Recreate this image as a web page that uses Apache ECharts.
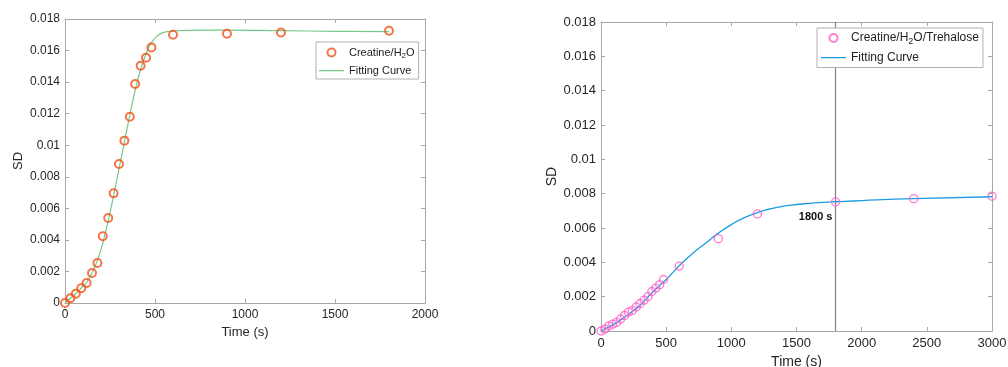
<!DOCTYPE html>
<html>
<head>
<meta charset="utf-8">
<script src="https://cdn.jsdelivr.net/npm/echarts@6/dist/echarts.min.js"></script>
<style>
html,body{margin:0;padding:0;background:#fff;}
#c{width:1008px;height:367px;}
</style>
</head>
<body>
<div id="c"></div>
<script>
// ---- Left panel: Creatine/H2O ----
const leftTime = [0,30,60,90,120,150,180,210,240,270,300,330,360,390,420,450,480,600,900,1200,1800];
const leftSD = [0,0.0003,0.00059,0.00093,0.00127,0.0019,0.00254,0.00423,0.00539,0.00695,0.00881,0.01029,0.01181,0.01388,0.01504,0.01555,0.0162,0.0170,0.01707,0.01715,0.01726];
const leftFitTime = [0,30,60,90,120,150,180,210,240,270,300,330,360,390,420,450,480,510,540,570,600,700,800,900,1200,1500,1800];
const leftFitSD = [0,0.0003,0.0006,0.00095,0.0013,0.0019,0.0027,0.0038,0.0052,0.0068,0.0085,0.0102,0.0119,0.0135,0.0148,0.0158,0.0165,0.0169,0.01712,0.0172,0.01724,0.01728,0.0173,0.0173,0.01726,0.01722,0.0172];

// ---- Right panel: Creatine/H2O/Trehalose ----
const rightTime = [0,30,60,90,120,150,180,210,240,270,300,330,360,390,420,450,480,600,900,1200,1800,2400,3000];
const rightSD = [0,0.0001,0.0003,0.0004,0.0005,0.0007,0.0009,0.0011,0.0012,0.0014,0.0016,0.0018,0.0020,0.0023,0.0025,0.0027,0.0030,0.00378,0.00538,0.00682,0.00752,0.00771,0.00785];
const rightFitTime = [0,50,100,150,200,250,300,350,400,500,600,700,800,900,1000,1100,1200,1300,1400,1500,1600,1700,1800,2000,2400,3000];
const rightFitSD = [0,0.0002,0.0004,0.00065,0.0009,0.0012,0.0015,0.0019,0.0023,0.0030,0.0038,0.0045,0.0051,0.0057,0.0062,0.0066,0.0069,0.00712,0.00727,0.00737,0.00744,0.00749,0.00753,0.0076,0.00771,0.00782];

const markTime = 1800;
const markSD = 0.0075;
const markText = '1800 s';

const yTicks = {min:0, max:0.018, interval:0.002};
const leftX = {min:0, max:2000, interval:500};
const rightX = {min:0, max:3000, interval:500};

const nameL = 'Creatine/H2O';
const nameLFit = 'Fitting Curve#L';
const nameR = 'Creatine/H2O/Trehalose';
const nameRFit = 'Fitting Curve#R';

const FONT = 'Liberation Sans, Arial, Helvetica, sans-serif';
const axisCol = '#a8a8a8';
const txtCol = '#262626';
const greenCol = '#77c98a';
const blueCol = '#1c9be2';
const LINE_ICON = 'path://M0,0L0.01,0L0.01,0.01Z M0,3.4L25,3.4L25,4.7L0,4.7Z M0,7.99L0.01,7.99L0.01,8Z';

function pair(xs, ys){ return xs.map((x,i)=>[x, ys[i]]); }
function fmtNum(v){ return String(+(+v).toFixed(4)); }

function xAx(grid, r, pos, show, fs, gap, margin){
  return {
    type:'value', gridIndex:grid, position:pos, min:r.min, max:r.max, interval:r.interval,
    name: show ? 'Time (s)' : '', nameLocation:'middle', nameGap:gap,
    nameTextStyle:{color:txtCol, fontSize:fs+1, fontFamily:FONT},
    axisLine:{show:true, onZero:false, lineStyle:{color:axisCol, width:1}},
    axisTick:{show:true, inside:true, length:4, lineStyle:{color:axisCol}},
    axisLabel:{show:show, color:txtCol, fontSize:fs, fontFamily:FONT, margin:margin, formatter:fmtNum},
    splitLine:{show:false}
  };
}
function yAx(grid, pos, show, fs, gap){
  return {
    type:'value', gridIndex:grid, position:pos, min:yTicks.min, max:yTicks.max, interval:yTicks.interval,
    name: show ? 'SD' : '', nameLocation:'middle', nameGap:gap,
    nameTextStyle:{color:txtCol, fontSize:fs+1, fontFamily:FONT},
    axisLine:{show:true, onZero:false, lineStyle:{color:axisCol, width:1}},
    axisTick:{show:true, inside:true, length:4, lineStyle:{color:axisCol}},
    axisLabel:{show:show, color:txtCol, fontSize:fs, fontFamily:FONT, margin:5, formatter:fmtNum},
    splitLine:{show:false}
  };
}

function richTxt(fs){
  return {
    a:{fontSize:fs, fontFamily:FONT, color:'#222'},
    s:{fontSize:fs-3, fontFamily:FONT, color:'#222', padding:[fs-4,0,0,0]}
  };
}
function legendFmt(name){
  name = name.split('#')[0];
  if(name.indexOf('H2O')>=0){
    const parts = name.split('H2O');
    return '{a|'+parts[0]+'H}{s|2}{a|O'+parts[1]+'}';
  }
  return '{a|'+name+'}';
}

const chart = echarts.init(document.getElementById('c'), null, {renderer:'canvas'});
chart.setOption({
  backgroundColor:'#fff',
  animation:false,
  grid:[
    {left:65, top:19, width:360, height:284, containLabel:false, outerBoundsMode:'none'},
    {left:601, top:22, width:391, height:309, containLabel:false, outerBoundsMode:'none'}
  ],
  xAxis:[ xAx(0,leftX,'bottom',true,12,20,6), xAx(0,leftX,'top',false,12,20,6),
          xAx(1,rightX,'bottom',true,13,21,6), xAx(1,rightX,'top',false,13,21,6) ],
  yAxis:[ yAx(0,'left',true,12,40), yAx(0,'right',false,12,40),
          yAx(1,'left',true,13,42), yAx(1,'right',false,13,42) ],
  legend:[
    {
      z:20,
      data:[{name:nameL}, {name:nameLFit, icon:LINE_ICON, itemStyle:{color:greenCol, borderWidth:0}, lineStyle:{color:greenCol}}],
      orient:'vertical', left:316, top:42,
      itemWidth:25, itemHeight:8, itemGap:5, padding:[5,4,3,3],
      backgroundColor:'#fff', borderColor:'#b0b0b0', borderWidth:1, borderRadius:0,
      formatter:legendFmt, textStyle:{rich:richTxt(11)}
    },
    {
      z:20,
      data:[{name:nameR}, {name:nameRFit, icon:LINE_ICON, itemStyle:{color:blueCol, borderWidth:0}, lineStyle:{color:blueCol}}],
      orient:'vertical', left:817, top:28,
      itemWidth:25, itemHeight:8, itemGap:5, padding:[4,4,4,4],
      backgroundColor:'#fff', borderColor:'#b0b0b0', borderWidth:1, borderRadius:0,
      formatter:legendFmt, textStyle:{rich:richTxt(12)}
    }
  ],
  series:[
    {
      name:nameLFit, type:'line', xAxisIndex:0, yAxisIndex:0,
      data:pair(leftFitTime, leftFitSD), smooth:0.4, showSymbol:false, symbol:'none',
      lineStyle:{color:greenCol, width:1.2}, itemStyle:{color:greenCol}, z:2
    },
    {
      name:nameL, type:'scatter', xAxisIndex:0, yAxisIndex:0,
      data:pair(leftTime, leftSD), symbol:'circle', symbolSize:8,
      itemStyle:{color:'rgba(0,0,0,0)', borderColor:'#f0531c', borderWidth:2}, z:3
    },
    {
      name:'annotation', type:'line', xAxisIndex:2, yAxisIndex:2, data:[], z:1,
      markLine:{
        silent:true, symbol:'none', label:{show:false}, z:1,
        lineStyle:{color:'#808080', width:1.2, type:'solid'},
        data:[{xAxis:markTime}]
      },
      markPoint:{
        silent:true, symbol:'circle', symbolSize:1, itemStyle:{color:'rgba(0,0,0,0)'},
        label:{show:true, formatter:markText, color:'#111', fontWeight:'bold', fontSize:11, fontFamily:FONT, offset:[-20,15]},
        data:[{coord:[markTime, markSD]}]
      }
    },
    {
      name:nameRFit, type:'line', xAxisIndex:2, yAxisIndex:2,
      data:pair(rightFitTime, rightFitSD), smooth:0.5, showSymbol:false, symbol:'none',
      lineStyle:{color:blueCol, width:1.3}, itemStyle:{color:blueCol}, z:2
    },
    {
      name:nameR, type:'scatter', xAxisIndex:2, yAxisIndex:2,
      data:pair(rightTime, rightSD), symbol:'circle', symbolSize:8,
      itemStyle:{color:'rgba(0,0,0,0)', borderColor:'#ff5fc8', borderWidth:1.4}, z:3
    }
  ]
});
</script>
</body>
</html>
